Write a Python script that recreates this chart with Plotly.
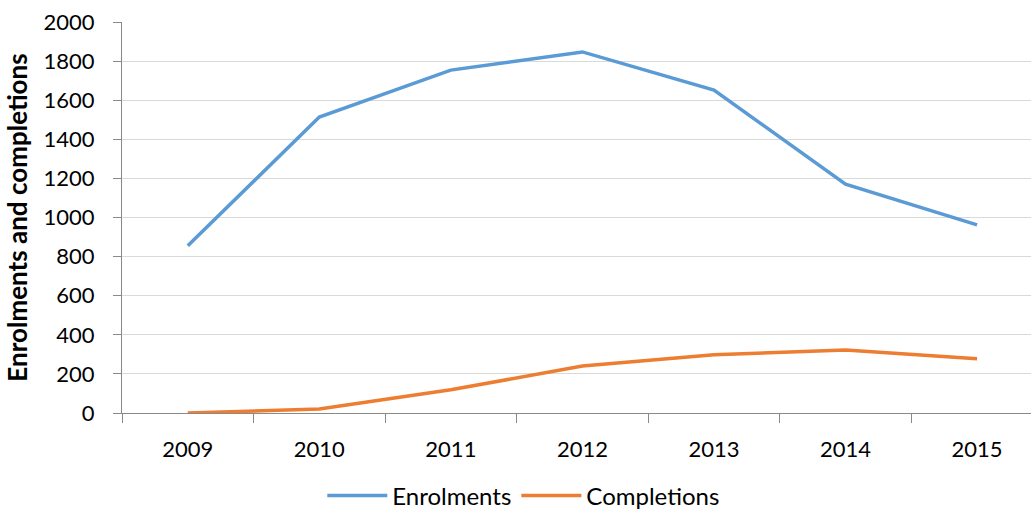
import plotly.graph_objects as go

years = ["2009", "2010", "2011", "2012", "2013", "2014", "2015"]
enrolments = [855, 1514, 1754, 1847, 1652, 1171, 962]
completions = [0, 20, 119, 240, 298, 322, 277]
y_ticks = [0, 200, 400, 600, 800, 1000, 1200, 1400, 1600, 1800, 2000]

font = "Lato, 'Open Sans', sans-serif"

fig = go.Figure()
fig.add_trace(go.Scatter(x=years, y=enrolments, mode="lines", name="Enrolments",
                         line=dict(color="#5B9BD5", width=3.5)))
fig.add_trace(go.Scatter(x=years, y=completions, mode="lines", name="Completions",
                         line=dict(color="#ED7D31", width=3.5)))

fig.update_layout(
    width=1031, height=515,
    margin=dict(l=122, r=0, t=22, b=102, autoexpand=False),
    paper_bgcolor="white", plot_bgcolor="white",
    font=dict(family=font, size=22, color="#000000"),
    showlegend=True,
    legend=dict(orientation="h", x=0.442, xanchor="center", y=-0.212, yanchor="middle",
                font=dict(size=24), itemwidth=60, tracegroupgap=0),
    xaxis=dict(type="category", range=[-0.5, 6.41], showgrid=False,
               showline=True, linecolor="#898989", linewidth=1,
               ticks="outside", tickson="boundaries", ticklen=9, tickcolor="#898989",
               ticklabelstandoff=17, tickfont=dict(size=22)),
    yaxis=dict(range=[0, 2000], tickvals=y_ticks, showgrid=True, gridcolor="#D9D9D9",
               gridwidth=1, showline=True, linecolor="#898989", linewidth=1,
               ticks="outside", ticklen=8, tickcolor="#898989", zeroline=False,
               ticklabelstandoff=14, tickfont=dict(size=22),
               title=dict(text="<b>Enrolments and completions</b>", font=dict(size=26), standoff=8)),
)

fig.write_html("out.html")
